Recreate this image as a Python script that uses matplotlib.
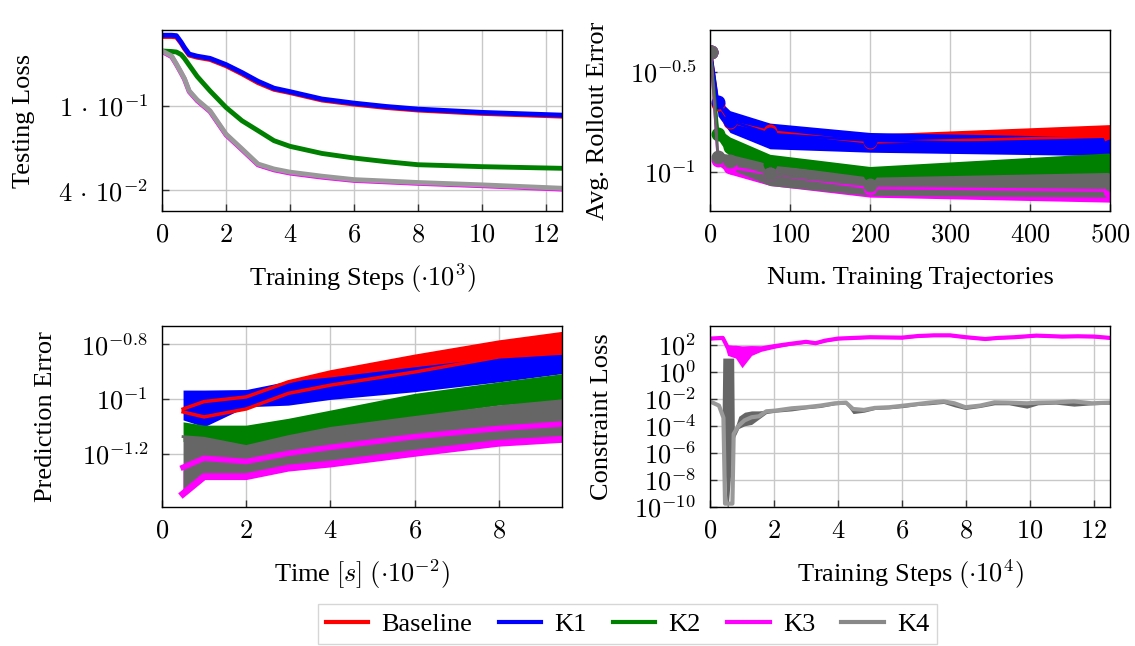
import numpy as np
import matplotlib
matplotlib.use("Agg")
from matplotlib import pyplot as plt
from matplotlib.lines import Line2D

plt.rcParams['font.family'] = ['Liberation Serif', 'DejaVu Serif']
plt.rcParams['mathtext.fontset'] = 'cm'
plt.rcParams['font.size'] = 19

RED = '#ff0000'
BLUE = '#0000ff'
GREEN = '#008000'
MAG = '#ff00ff'
GRAY_L = '#999999'
GRAY_D = '#666666'

# ---- top left: testing loss vs training steps (x 10^3)
tl_x = [0, 0.3, 0.45, 0.6, 0.7, 0.85, 1.1, 1.5, 2, 2.5, 3, 3.5, 4, 5, 6, 7, 8, 10, 12.45]
tl_base = [0.213, 0.213, 0.212, 0.198, 0.187, 0.174, 0.170, 0.166, 0.155, 0.142, 0.129, 0.120, 0.1158, 0.1068, 0.1022, 0.0985, 0.0958, 0.0924, 0.0897]
tl_k1 = [0.216, 0.216, 0.215, 0.200, 0.189, 0.176, 0.172, 0.168, 0.157, 0.144, 0.131, 0.1215, 0.117, 0.108, 0.1033, 0.0996, 0.0968, 0.0934, 0.0907]
tl_k2 = [0.182, 0.181, 0.180, 0.175, 0.168, 0.156, 0.138, 0.118, 0.0986, 0.0853, 0.0766, 0.0687, 0.0646, 0.0598, 0.0569, 0.0547, 0.0529, 0.0518, 0.0509]
tl_k3 = [0.181, 0.171, 0.157, 0.143, 0.134, 0.117, 0.106, 0.0942, 0.0731, 0.0622, 0.0528, 0.0500, 0.0483, 0.0462, 0.0446, 0.0439, 0.0432, 0.0421, 0.0406]
tl_k4 = [0.182, 0.1725, 0.158, 0.144, 0.135, 0.118, 0.107, 0.0951, 0.0738, 0.0628, 0.0533, 0.0505, 0.0488, 0.0467, 0.0450, 0.0443, 0.0436, 0.0425, 0.0410]

# ---- top right: rollout error vs number of trajectories
tr_x = [1, 10, 25, 75, 200, 500]
tr_base = [0.398, 0.218, 0.177, 0.159, 0.140, 0.150]
tr_base_lo = [0.38, 0.210, 0.160, 0.149, 0.130, 0.132]
tr_base_hi = [0.42, 0.225, 0.183, 0.167, 0.154, 0.172]
tr_k1 = [0.398, 0.222, 0.180, 0.154, 0.143, 0.134]
tr_k1_lo = [0.38, 0.190, 0.157, 0.130, 0.125, 0.120]
tr_k1_hi = [0.42, 0.231, 0.202, 0.175, 0.157, 0.149]
tr_k2 = [0.398, 0.155, 0.132, 0.109, 0.0973, 0.106]
tr_k2_lo = [0.38, 0.145, 0.118, 0.0973, 0.0883, 0.0914]
tr_k2_hi = [0.42, 0.165, 0.149, 0.122, 0.106, 0.124]
tr_k3 = [0.398, 0.114, 0.105, 0.0972, 0.0828, 0.0803]
tr_k3_lo = [0.38, 0.108, 0.097, 0.0851, 0.0744, 0.0702]
tr_k3_hi = [0.42, 0.118, 0.110, 0.105, 0.0885, 0.0867]
tr_k4 = [0.398, 0.118, 0.1135, 0.097, 0.0851, 0.0867]
tr_k4_lo = [0.38, 0.108, 0.103, 0.085, 0.0759, 0.0745]
tr_k4_hi = [0.42, 0.124, 0.122, 0.109, 0.0937, 0.099]

# ---- bottom left: prediction error vs time (x 10^-2 s), log10 values
bl_x = [0.5, 1, 2, 3, 4, 6, 8, 9.5]
bl_base_lo = [-1.047, -1.065, -1.036, -0.979, -0.949, -0.901, -0.846, -0.832]
bl_base_hi = [-1.036, -1.009, -0.992, -0.937, -0.901, -0.844, -0.792, -0.761]
bl_k1_lo = [-1.076, -1.101, -1.028, -1.022, -1.001, -0.973, -0.937, -0.907]
bl_k1_hi = [-0.967, -0.967, -0.965, -0.934, -0.919, -0.882, -0.846, -0.832]
bl_k2_lo = [-1.155, -1.155, -1.173, -1.143, -1.107, -1.064, -1.022, -1.006]
bl_k2_hi = [-1.083, -1.095, -1.095, -1.070, -1.040, -0.979, -0.937, -0.907]
bl_k3_lo = [-1.346, -1.283, -1.283, -1.252, -1.237, -1.198, -1.161, -1.147]
bl_k3_hi = [-1.249, -1.216, -1.228, -1.198, -1.176, -1.137, -1.107, -1.091]
bl_k4_lo = [-1.330, -1.275, -1.275, -1.245, -1.230, -1.190, -1.155, -1.140]
bl_k4_hi = [-1.137, -1.143, -1.173, -1.137, -1.107, -1.067, -1.028, -1.006]

# ---- bottom right: constraint loss vs training steps (x 10^4), log10 values
br_k3_x = [0, 0.4, 0.55, 0.8, 1.0, 1.3, 1.6, 2.0, 2.5, 3.0, 3.3, 3.6, 4.0, 5.0, 6.0, 6.5, 7.0, 7.5, 8.0, 8.6, 9.0, 9.5, 10.2, 11.0, 11.5, 12.0, 12.5]
br_k3 = [2.44, 2.49, 1.80, 1.71, 1.63, 1.71, 1.71, 1.88, 2.05, 2.20, 2.10, 2.29, 2.44, 2.54, 2.51, 2.63, 2.68, 2.68, 2.54, 2.41, 2.49, 2.54, 2.66, 2.59, 2.61, 2.59, 2.49]
br_k3_lo = [2.36, 2.41, 1.20, 1.00, 0.29, 1.20, 1.50, 1.72, 1.95, 2.10, 2.02, 2.20, 2.36, 2.46, 2.43, 2.55, 2.60, 2.60, 2.46, 2.33, 2.41, 2.46, 2.58, 2.51, 2.53, 2.51, 2.41]
br_k3_hi = [2.52, 2.57, 1.95, 1.95, 1.90, 1.92, 1.88, 2.00, 2.14, 2.29, 2.18, 2.37, 2.52, 2.62, 2.59, 2.71, 2.76, 2.76, 2.62, 2.49, 2.57, 2.62, 2.74, 2.67, 2.69, 2.67, 2.57]
br_k4_x = [0, 0.28, 0.42, 0.47, 0.70, 0.74, 0.9, 1.08, 1.3, 1.53, 1.76, 2.04, 2.55, 3.0, 3.45, 3.9, 4.25, 4.47, 4.81, 5.15, 5.6, 6.06, 6.5, 6.85, 7.3, 7.64, 7.98, 8.44, 8.89, 9.34, 9.9, 10.25, 10.8, 11.37, 11.94, 12.5]
br_k4 = [-2.20, -2.51, -3.40, -9.75, -9.75, -4.6, -3.98, -3.6, -3.37, -3.3, -2.93, -2.88, -2.71, -2.63, -2.51, -2.34, -2.29, -2.76, -2.83, -2.68, -2.63, -2.51, -2.39, -2.29, -2.20, -2.34, -2.63, -2.51, -2.27, -2.29, -2.34, -2.29, -2.27, -2.20, -2.34, -2.29]
br_k4_band_x = [0, 0.28, 0.38, 0.40, 0.55, 0.74, 0.76, 0.9, 1.08, 1.3, 1.53, 1.76, 2.04, 2.55, 3.0, 3.45, 3.9, 4.25, 4.47, 4.81, 5.15, 5.6, 6.06, 6.5, 6.85, 7.3, 7.64, 7.98, 8.44, 8.89, 9.34, 9.9, 10.25, 10.8, 11.37, 11.94, 12.5]
br_k4_lo = [-2.30, -2.60, -3.2, -4.0, -10.6, -4.6, -4.9, -4.2, -4.0, -3.9, -3.5, -3.1, -3.0, -2.9, -2.75, -2.65, -2.45, -2.40, -3.1, -3.0, -2.8, -2.75, -2.65, -2.5, -2.45, -2.35, -2.6, -2.8, -2.65, -2.45, -2.45, -2.7, -2.45, -2.4, -2.55, -2.45, -2.4]
br_k4_hi = [-2.15, -2.45, -2.9, 1.0, 1.0, 1.0, -4.3, -3.3, -3.0, -2.9, -2.9, -2.85, -2.8, -2.62, -2.55, -2.45, -2.28, -2.22, -2.65, -2.75, -2.6, -2.55, -2.45, -2.3, -2.2, -2.12, -2.25, -2.55, -2.42, -2.18, -2.2, -2.25, -2.2, -2.18, -2.12, -2.25, -2.2]

fig = plt.figure(figsize=(11.35, 6.46), dpi=100)
ax_tl = fig.add_axes([162 / 1135, 1 - 211 / 646, 400 / 1135, 181 / 646])
ax_tr = fig.add_axes([710 / 1135, 1 - 211 / 646, 400 / 1135, 181 / 646])
ax_bl = fig.add_axes([162 / 1135, 1 - 507 / 646, 400 / 1135, 181 / 646])
ax_br = fig.add_axes([710 / 1135, 1 - 507 / 646, 400 / 1135, 181 / 646])


def style(ax):
    ax.set_yscale('log')
    ax.minorticks_off()
    ax.grid(True, color='#c8c8c8', linewidth=1.0)
    ax.set_axisbelow(True)
    ax.tick_params(direction='in', length=5, width=1, color='#333333', pad=10)
    for s in ax.spines.values():
        s.set_linewidth(1.0)


def labels(ax, xl, yl, ylx):
    ax.set_xlabel(xl)
    ax.set_ylabel(yl)
    ax.xaxis.set_label_coords(0.5, -0.37)
    ax.xaxis.label.set_verticalalignment('center')
    ax.yaxis.set_label_coords(ylx, 0.5)
    ax.yaxis.label.set_verticalalignment('center')


def p(v):
    return [10 ** a for a in v]


# top left
style(ax_tl)
ax_tl.plot(tl_x, tl_base, color=RED, lw=3.5)
ax_tl.plot(tl_x, tl_k1, color=BLUE, lw=3.5)
ax_tl.plot(tl_x, tl_k2, color=GREEN, lw=3.5)
ax_tl.plot(tl_x, tl_k3, color=MAG, lw=3.5)
ax_tl.plot(tl_x, tl_k4, color=GRAY_L, lw=3.5)
ax_tl.set_xlim(0, 12.5)
ax_tl.set_ylim(0.0320, 0.2286)
ax_tl.set_xticks([0, 2, 4, 6, 8, 10, 12])
ax_tl.set_xticklabels(['$%d$' % v for v in [0, 2, 4, 6, 8, 10, 12]])
ax_tl.set_yticks([0.04, 0.1])
ax_tl.set_yticklabels([r'$4\,\cdot\,10^{-2}$', r'$1\,\cdot\,10^{-1}$'])
labels(ax_tl, r'Training Steps $(\cdot10^{3})$', 'Testing Loss', -0.345)

# top right
style(ax_tr)
bands = [(tr_base_lo, tr_base_hi, RED), (tr_k1_lo, tr_k1_hi, BLUE), (tr_k2_lo, tr_k2_hi, GREEN),
         (tr_k3_lo, tr_k3_hi, MAG), (tr_k4_lo, tr_k4_hi, GRAY_D)]
for lo, hi, c in bands:
    ax_tr.fill_between(tr_x, lo, hi, color=c, lw=0)
for y, c in [(tr_base, RED), (tr_k1, BLUE), (tr_k2, GREEN), (tr_k3, MAG), (tr_k4, GRAY_D)]:
    ax_tr.plot(tr_x, y, color=c, lw=2, marker='o', ms=9)
ax_tr.set_xlim(0, 500)
ax_tr.set_ylim(10 ** -1.198, 10 ** -0.29)
ax_tr.set_xticks([0, 100, 200, 300, 400, 500])
ax_tr.set_xticklabels(['$%d$' % v for v in [0, 100, 200, 300, 400, 500]])
ax_tr.set_yticks([10 ** -1, 10 ** -0.5])
ax_tr.set_yticklabels([r'$10^{-1}$', r'$10^{-0.5}$'])
labels(ax_tr, 'Num. Training Trajectories', 'Avg. Rollout Error', -0.28)

# bottom left
style(ax_bl)
ax_bl.fill_between(bl_x, p(bl_base_lo), p(bl_base_hi), color=RED, lw=0)
ax_bl.fill_between(bl_x, p(bl_k1_lo), p(bl_k1_hi), color=BLUE, lw=0)
ax_bl.fill_between(bl_x, p(bl_k2_lo), p(bl_k2_hi), color=GREEN, lw=0)
ax_bl.fill_between(bl_x, p(bl_k3_lo), p(bl_k3_hi), color=MAG, lw=0)
ax_bl.fill_between(bl_x, p(bl_k4_lo), p(bl_k4_hi), color=GRAY_D, lw=0)
ax_bl.plot(bl_x, p(bl_base_hi), color=RED, lw=2.5)
ax_bl.plot(bl_x, p(bl_base_lo), color=RED, lw=2.5)
ax_bl.plot(bl_x, p(bl_k4_hi), color=GRAY_D, lw=2)
ax_bl.plot(bl_x, p(bl_k3_lo), color=MAG, lw=5)
ax_bl.plot(bl_x, p(bl_k3_hi), color=MAG, lw=4)
ax_bl.set_xlim(0, 9.5)
ax_bl.set_ylim(10 ** -1.394, 10 ** -0.733)
ax_bl.set_xticks([0, 2, 4, 6, 8])
ax_bl.set_xticklabels(['$%d$' % v for v in [0, 2, 4, 6, 8]])
ax_bl.set_yticks([10 ** -1.2, 10 ** -1, 10 ** -0.8])
ax_bl.set_yticklabels([r'$10^{-1.2}$', r'$10^{-1}$', r'$10^{-0.8}$'])
labels(ax_bl, r'Time $[s]$ $(\cdot10^{-2})$', 'Prediction Error', -0.29)

# bottom right
style(ax_br)
ax_br.fill_between(br_k3_x, p(br_k3_lo), p(br_k3_hi), color=MAG, lw=0)
ax_br.plot(br_k3_x, p(br_k3), color=MAG, lw=3)
ax_br.fill_between(br_k4_band_x, p(br_k4_lo), p(br_k4_hi), color=GRAY_D, lw=0)
ax_br.plot(br_k4_x, p(br_k4), color=GRAY_L, lw=3)
ax_br.set_xlim(0, 12.5)
ax_br.set_ylim(1e-10, 10 ** 3.37)
ax_br.set_xticks([0, 2, 4, 6, 8, 10, 12])
ax_br.set_xticklabels(['$%d$' % v for v in [0, 2, 4, 6, 8, 10, 12]])
br_ticks = [-10, -8, -6, -4, -2, 0, 2]
ax_br.set_yticks([10.0 ** t for t in br_ticks])
ax_br.set_yticklabels([r'$10^{%d}$' % t for t in br_ticks])
labels(ax_br, r'Training Steps $(\cdot10^{4})$', 'Constraint Loss', -0.27)

handles = [Line2D([], [], color=c, lw=3) for c in [RED, BLUE, GREEN, MAG, '#888888']]
leg = fig.legend(handles, ['Baseline', 'K1', 'K2', 'K3', 'K4'], loc='center', ncol=5,
                 bbox_to_anchor=(0.553, 0.034), frameon=True, fancybox=False,
                 edgecolor='#cccccc', handlelength=1.6, columnspacing=1.0,
                 handletextpad=0.5, borderpad=0.3)
leg.get_frame().set_linewidth(1.0)

fig.savefig('out.png', dpi=100)
